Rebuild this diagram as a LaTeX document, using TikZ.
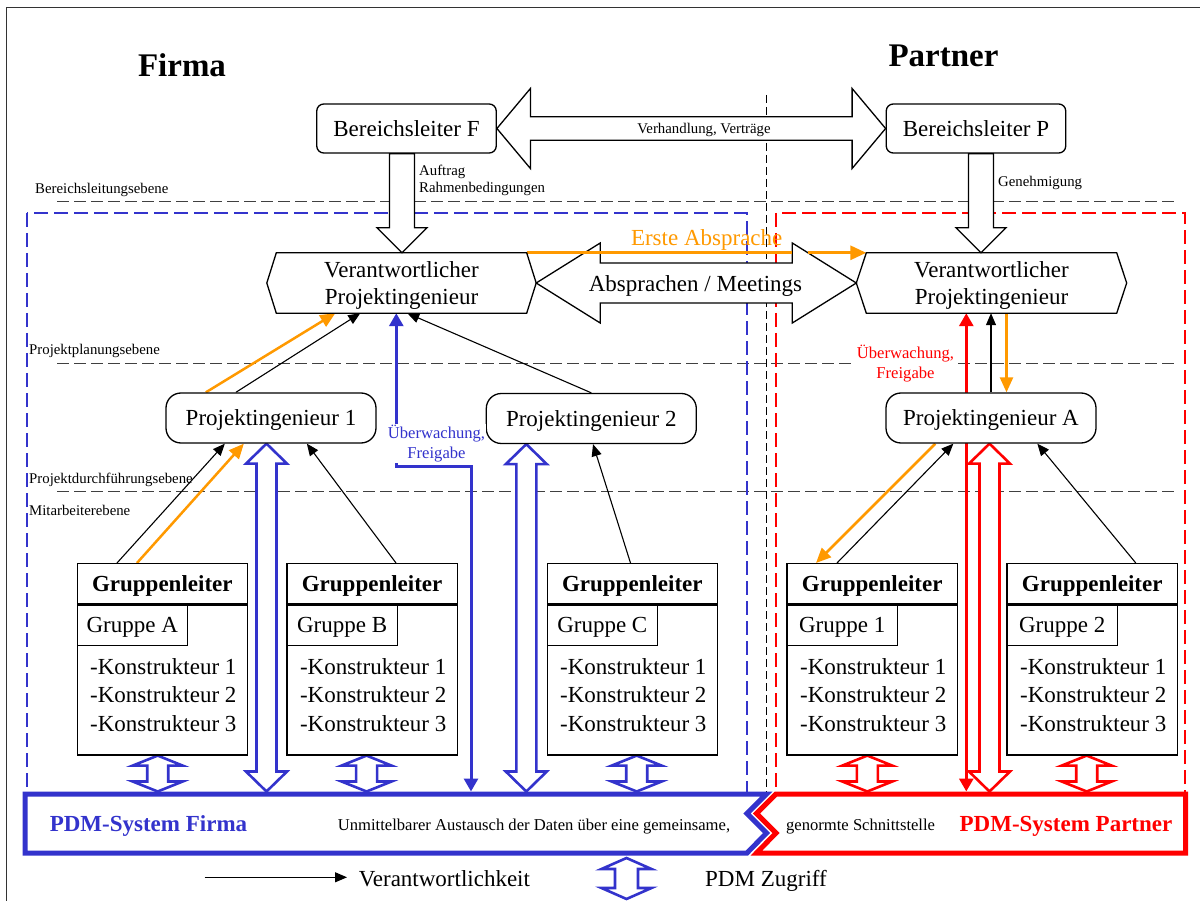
\documentclass[tikz,border=0pt]{standalone}
\usepackage{fontspec}
\setmainfont{Liberation Serif}
\usetikzlibrary{calc,arrows.meta}

\pgfdeclarelayer{back}
\pgfdeclarelayer{links}
\pgfsetlayers{back,links,main}

\definecolor{pdmblue}{RGB}{51,51,204}
\definecolor{pdmred}{RGB}{255,0,0}
\definecolor{agree}{RGB}{255,153,0}

% hollow vertical double arrow; x is taken from the first point
\newcommand{\hollowv}[6]{%
  \draw[#6] let \p1=(#1), \p2=(#2) in
    (\x1,\y1) -- (\x1+#4,\y1-#5) -- (\x1+#3,\y1-#5) -- (\x1+#3,\y2+#5)
    -- (\x1+#4,\y2+#5) -- (\x1,\y2) -- (\x1-#4,\y2+#5) -- (\x1-#3,\y2+#5)
    -- (\x1-#3,\y1-#5) -- (\x1-#4,\y1-#5) -- cycle;}
% hollow downward arrow; x is taken from the first point
\newcommand{\hollowdown}[6]{%
  \draw[#6] let \p1=(#1), \p2=(#2) in
    (\x1-#3,\y1) -- (\x1+#3,\y1) -- (\x1+#3,\y2+#5) -- (\x1+#4,\y2+#5)
    -- (\x1,\y2) -- (\x1-#4,\y2+#5) -- (\x1-#3,\y2+#5) -- cycle;}
% hollow horizontal double arrow; y is taken from the first point
\newcommand{\hollowh}[6]{%
  \draw[#6] let \p1=(#1), \p2=(#2) in
    (\x1,\y1) -- (\x1+#5,\y1+#4) -- (\x1+#5,\y1+#3) -- (\x2-#5,\y1+#3)
    -- (\x2-#5,\y1+#4) -- (\x2,\y1) -- (\x2-#5,\y1-#4) -- (\x2-#5,\y1-#3)
    -- (\x1+#5,\y1-#3) -- (\x1+#5,\y1-#4) -- cycle;}

\tikzset{
  txtL/.style={font=\fontsize{23}{27}\selectfont},
  txtS/.style={font=\fontsize{14.8}{16.7}\selectfont},
  txtM/.style={font=\fontsize{16.6}{20}\selectfont},
  txtB/.style={font=\fontsize{23}{27}\selectfont\bfseries},
  leadbox/.style={draw, line width=1.3pt, rounded corners=7pt, fill=white,
    minimum width=179.5pt, minimum height=49pt, txtL, text depth=0pt},
  engbox/.style={draw, line width=1.3pt, rounded corners=15pt, fill=white,
    minimum width=210pt, minimum height=50pt, txtL, text depth=0pt},
  hexbox/.style={minimum width=250pt, minimum height=60pt, inner sep=0pt,
    align=center, txtL, text depth=0pt},
  hexline/.style={draw, line width=1.3pt},
  ghead/.style={draw, line width=1.3pt, fill=white, minimum width=170.3pt,
    minimum height=40pt, inner sep=0pt, anchor=north west, txtB, text depth=0pt},
  gbody/.style={draw, line width=1.3pt, fill=white, minimum width=170.3pt,
    minimum height=150pt, inner sep=0pt, anchor=north west},
  gsub/.style={draw, line width=1.3pt, minimum width=110.3pt, minimum height=40.7pt,
    inner sep=0pt, anchor=north west, txtL, text depth=0pt},
  glist/.style={anchor=north west, align=left, inner sep=0pt,
    font=\fontsize{23}{28.5}\selectfont},
  level/.style={draw=black!75, line width=1.4pt, dash pattern=on 12pt off 5pt},
  levellabel/.style={txtS, anchor=base west, inner sep=0pt},
  zone/.style={line width=2pt, dash pattern=on 14pt off 6pt},
  divider/.style={draw=black, line width=1pt, dash pattern=on 8pt off 4pt},
  pdmframe/.style={line width=5pt, line join=miter, fill=white},
  resp/.style={draw=black, line width=1.1pt, -{Triangle[length=12pt,width=10pt]}},
  agreearrow/.style={draw=agree, line width=2.5pt, -{Triangle[length=15pt,width=13pt]}},
  control/.style={line width=3pt,
    {Triangle[length=13pt,width=14pt]}-{Triangle[length=13pt,width=14pt]}},
  flowblack/.style={draw=black, line width=1.3pt, fill=white},
  access/.style={line width=2.6pt, fill=white},
}

% group leader box with group name and designer list
\newcommand{\gruppe}[3]{%
  \node[ghead] (#1h) at (#2,563) {Gruppenleiter};
  \node[gbody] (#1) at (#1h.south west) {};
  \node[gsub] (#1s) at (#1.north west) {#3};
  \node[glist] (#1l) at ($(#1.north west)+(13.5,54)$)
    {-Konstrukteur 1\\-Konstrukteur 2\\-Konstrukteur 3};
}

\begin{document}
\begin{tikzpicture}[x=1pt,y=-1pt]
\useasboundingbox (0,0) rectangle (1200,901);

% ---------- background: frame, levels, zones ----------
\begin{pgfonlayer}{back}
  \draw[line width=1pt, black!80] (6,901) -- (6,7.5) -- (1200,7.5);
  \draw[level] (57,201.7) -- (1176,201.7);
  \draw[level] (57,363.3) -- (1176,363.3);
  \draw[level] (57,491.7) -- (1176,491.7);
  \draw[zone, draw=pdmblue] (27,213) rectangle (746.6,794);
  \draw[zone, draw=pdmred] (776,213) rectangle (1185,794);
  \draw[divider] (766.5,95) -- (766.5,792);
\end{pgfonlayer}

% ---------- headings ----------
\node[font=\fontsize{33}{36}\selectfont\bfseries, anchor=base] (firma) at (182,77) {Firma};
\node[font=\fontsize{33}{36}\selectfont\bfseries, anchor=base] (partner) at (943.5,67) {Partner};

% ---------- level labels ----------
\node[levellabel] (lv1) at (35,193.3) {Bereichsleitungsebene};
\node[levellabel] (lv2) at (29,355) {Projektplanungsebene};
\node[levellabel] (lv3) at (29,483.3) {Projektdurchführungsebene};
\node[levellabel] (lv4) at (29,515) {Mitarbeiterebene};

% ---------- management ----------
\node[leadbox] (bF) at (406.5,128.5) {Bereichsleiter F};
\node[leadbox] (bP) at (976,128.5) {Bereichsleiter P};

% ---------- responsible project engineers ----------
\node[hexbox] (vF) at (401.5,283) {Verantwortlicher\\Projektingenieur};
\draw[hexline] (vF.north west) -- (vF.north east) -- ($(vF.east)+(9.5,0)$) coordinate (vFr)
  -- (vF.south east) -- (vF.south west) -- ($(vF.west)+(-9.5,0)$) coordinate (vFl) -- cycle;
\node[hexbox] (vP) at (991.5,283) {Verantwortlicher\\Projektingenieur};
\draw[hexline] (vP.north west) -- (vP.north east) -- ($(vP.east)+(10,0)$) coordinate (vPr)
  -- (vP.south east) -- (vP.south west) -- ($(vP.west)+(-10,0)$) coordinate (vPl) -- cycle;

% ---------- project engineers ----------
\node[engbox] (p1) at (271,418) {Projektingenieur 1};
\node[engbox] (p2) at (591.3,418.5) {Projektingenieur 2};
\node[engbox] (pA) at (991,418) {Projektingenieur A};

% ---------- groups ----------
\gruppe{gA}{76.5}{Gruppe A}
\gruppe{gB}{286.3}{Gruppe B}
\gruppe{gC}{546.5}{Gruppe C}
\gruppe{g1}{786.4}{Gruppe 1}
\gruppe{g2}{1006.4}{Gruppe 2}

% ---------- PDM systems ----------
\node[inner sep=0pt, minimum width=741.5pt, minimum height=61.5pt, anchor=north west] (pdmF) at (25,791.5) {};
\node[inner sep=0pt, minimum width=431pt, minimum height=61.5pt, anchor=north west] (pdmP) at (757,791.5) {};
\draw[pdmframe, draw=pdmblue] (25,794) -- (766.5,794) -- (747,813.5) -- (766.5,833)
  -- (747,853) -- (25,853) -- cycle;
\draw[pdmframe, draw=pdmred] (776,794) -- (1185.5,794) -- (1185.5,853) -- (756.5,853)
  -- (776,833) -- (756.5,813.5) -- cycle;
\node[txtB, text=pdmblue, anchor=base] (pdmFt) at (148.5,831.7) {PDM-System Firma};
\node[txtM, anchor=base] (exch1) at (534,830) {Unmittelbarer Austausch der Daten über eine gemeinsame,};
\node[txtM, anchor=base] (exch2) at (860.6,830) {genormte Schnittstelle};
\node[txtB, text=pdmred, anchor=base] (pdmPt) at (1066,831.7) {PDM-System Partner};

% ---------- connector labels ----------
\node[txtS, anchor=north west, align=left, inner sep=0pt] (order) at (419,164.9) {Auftrag\\Rahmenbedingungen};
\node[txtS, anchor=base west, inner sep=0pt] (approval) at (998,186.5) {Genehmigung};
\node[txtS, anchor=base] (negot) at (704,133.3) {Verhandlung, Verträge};
\node[txtL, anchor=base] (meet) at (695.5,291.7) {Absprachen / Meetings};
\node[txtL, anchor=base, text=agree] (first) at (706.7,245.5) {Erste Absprache};
\node[txtM, text=pdmblue, fill=white, align=center, inner sep=1pt] (ctrlF) at (436.5,443.8) {Überwachung,\\Freigabe};
\node[txtM, text=pdmred, fill=white, align=center, inner sep=1pt] (ctrlP) at (905.5,363.1) {Überwachung,\\Freigabe};

% ---------- legend ----------
\coordinate (legA) at (204.5,877.3);
\coordinate (legB) at (347,877.3);
\node[txtL, anchor=base west, inner sep=0pt] (legR) at (358.6,886.7) {Verantwortlichkeit};
\coordinate (legT) at (626.5,858);
\coordinate (legU) at (626.5,899);
\node[txtL, anchor=base west, inner sep=0pt] (legP) at (705,886.7) {PDM Zugriff};

% ---------- connectors ----------
\begin{pgfonlayer}{links}
  % negotiation and meetings
  \hollowh{bF.east}{bP.west}{11.75pt}{40pt}{33.5pt}{flowblack}
  \hollowh{vFr}{vPl}{20pt}{40pt}{64pt}{flowblack}
  \draw[agreearrow, line width=3pt, -{Triangle[length=16pt,width=14pt]}]
    (vF.north east) -- ++(265,0) ++(16,0) -- (vP.north west);
  % orders from management
  \hollowdown{$(bF.south)+(-4.5,0)$}{vF.north}{12.5pt}{25pt}{25pt}{flowblack}
  \hollowdown{$(bP.south)+(5,0)$}{vP.north}{12.5pt}{25pt}{25pt}{flowblack}

  % company side
  \draw[agreearrow] ($(p1.north west)+(40.5,0)$) -- ($(vF.south west)+(59,0)$);
  \draw[resp] ($(p1.north west)+(70.5,0)$) -- ($(vF.south west)+(84,0)$);
  \draw[resp] (p2.north) -- ($(vF.south west)+(131,0)$);
  \coordinate (ctrlFturn) at (471,466);
  \coordinate (ctrlFtop) at ($(vF.south west)+(120,0)$);
  \draw[control, draw=pdmblue] (ctrlFturn |- pdmF.north) -- (ctrlFturn)
    -- (ctrlFturn -| ctrlFtop) -- (ctrlFtop);
  \draw[resp] ($(gAh.north west)+(40.5,0)$) -- ($(p1.south west)+(59.5,0)$);
  \draw[agreearrow] ($(gAh.north west)+(60.5,0)$) -- ($(p1.south west)+(78.5,0)$);
  \draw[resp] ($(gBh.north west)+(109.7,0)$) -- ($(p1.south west)+(141.5,0)$);
  \draw[resp] ($(gCh.north west)+(84,0)$) -- ($(p2.south)+(1.7,0)$);
  \hollowv{$(p1.south)+(-4.5,0)$}{pdmF.north}{10pt}{20.5pt}{20pt}{access, draw=pdmblue}
  \hollowv{$(p2.south)+(-65,0)$}{pdmF.north}{10pt}{20.5pt}{20pt}{access, draw=pdmblue}
  \hollowv{$(gA.south)+(-4.6,0)$}{pdmF.north}{10.5pt}{25pt}{10pt}{access, draw=pdmblue}
  \hollowv{$(gB.south)+(-5.5,0)$}{pdmF.north}{10.5pt}{25pt}{10pt}{access, draw=pdmblue}
  \hollowv{$(gC.south)+(4.4,0)$}{pdmF.north}{10.5pt}{25pt}{10pt}{access, draw=pdmblue}

  % partner side
  \coordinate (ctrlPtop) at ($(vP.south west)+(100,0)$);
  \draw[control, draw=pdmred] (ctrlPtop |- pdmP.north) -- (ctrlPtop);
  \draw[resp] (pA.north) -- (pA.north |- vP.south);
  \coordinate (agreePtop) at ($(vP.south)+(15,0)$);
  \draw[agreearrow] (agreePtop) -- (agreePtop |- pA.north);
  \draw[agreearrow] ($(pA.south west)+(50,0)$) -- ($(g1h.north west)+(29.6,0)$);
  \draw[resp] ($(g1h.north west)+(50.6,0)$) -- ($(pA.south west)+(68,0)$);
  \draw[resp] ($(g2h.north west)+(129.4,0)$) -- ($(pA.south west)+(152,0)$);
  \hollowv{$(pA.south)+(-1.5,0)$}{pdmP.north}{10pt}{20.5pt}{20pt}{access, draw=pdmred}
  \hollowv{$(g1.south)+(-4.9,0)$}{pdmP.north}{10.5pt}{25pt}{10pt}{access, draw=pdmred}
  \hollowv{$(g2.south)+(-5.5,0)$}{pdmP.north}{10.5pt}{25pt}{10pt}{access, draw=pdmred}

  % legend symbols
  \draw[resp] (legA) -- (legB);
  \hollowv{legT}{legU}{11.5pt}{25pt}{11pt}{access, draw=pdmblue}
\end{pgfonlayer}
\end{tikzpicture}
\end{document}
